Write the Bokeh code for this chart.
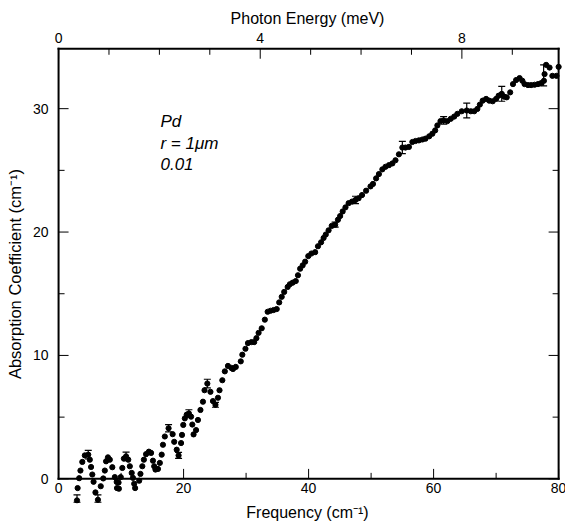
from bokeh.plotting import figure
from bokeh.models import (ColumnDataSource, Range1d, LinearAxis, FixedTicker,
                          Whisker, TeeHead, LabelSet)
from bokeh.core.properties import value
from bokeh.embed import file_html
from bokeh.resources import INLINE

# ---- data ----
freq = [2.95, 3.05, 3.3, 3.5, 3.8, 4.2, 4.75, 5.0, 5.2, 5.4, 5.6, 5.9, 6.3, 6.75,
        7.15, 7.4, 7.6, 7.9, 8.2, 8.6, 9.0, 9.3, 9.6, 9.35, 9.65, 9.95, 10.2, 10.45,
        10.8, 11.15, 11.4, 11.7, 11.9, 12.1, 12.25, 12.9, 13.1, 13.4, 13.65, 14.0,
        14.45, 14.8, 15.1, 15.3, 15.5, 15.9, 16.2, 16.5, 16.7, 17.0, 17.6, 18.25,
        18.5, 18.9, 19.2, 19.6, 19.75, 19.95, 20.2, 20.5, 20.85, 21.2, 21.4, 21.6,
        22.0, 22.3, 22.7, 23.1, 23.35, 23.8, 24.3, 24.7, 25.1, 25.5, 25.75, 26.2,
        26.6, 27.1, 27.65, 27.9, 28.35, 29.15, 29.4, 29.9, 30.3, 30.85, 31.3, 31.65,
        32.0, 32.5, 33.0, 33.45, 33.9, 34.4, 34.9, 35.3, 35.7, 36.1, 36.65, 37.0,
        37.45, 37.95, 38.3, 38.65, 39.05, 39.45, 39.95, 40.45, 41.05, 41.5, 42.0,
        42.4, 42.75, 43.2, 43.7, 44.25, 44.7, 45.05, 45.45, 45.9, 46.4, 46.95, 47.5,
        48.0, 48.55, 49.2, 49.9, 50.3, 50.8, 51.25, 51.8, 52.3, 52.85, 53.4, 53.9,
        54.45, 55.0, 55.5, 56.05, 56.6, 57.1, 57.65, 58.2, 58.7, 59.3, 59.8, 60.25,
        60.6, 61.1, 61.6, 62.2, 62.75, 63.3, 63.8, 64.5, 65.3, 65.95, 66.5, 67.0,
        67.4, 67.85, 68.4, 68.9, 69.45, 70.0, 70.4, 70.9, 71.3, 71.7, 72.25, 72.7,
        73.2, 73.75, 74.2, 74.55, 75.1, 75.6, 76.15, 76.7, 77.2, 77.65, 77.75, 78.0,
        78.55, 79.0, 79.65, 80.0]
absorb = [-1.75, -0.75, 0.05, 0.67, 1.37, 1.9, 1.96, 1.55, 0.96, 0.35, -0.24, -1.1,
          -1.7, -0.6, 0.03, 0.67, 1.42, 1.74, 1.55, 0.94, 0.14, -0.25, -0.3, -0.75,
          -0.8, 0.14, 0.88, 1.64, 1.82, 1.55, 1.02, 0.48, 0.08, -0.4, -0.75, -0.15,
          0.4, 1.02, 1.55, 2.0, 2.2, 2.1, 1.47, 1.02, 0.75, 0.8, 1.29, 1.96, 2.76,
          3.43, 4.1, 3.62, 3.0, 2.36, 1.9, 2.9, 3.56, 4.37, 4.9, 5.2, 5.3, 5.04, 4.4,
          3.6, 3.95, 4.77, 5.58, 6.25, 7.18, 7.72, 7.05, 6.3, 6.0, 6.57, 7.18, 7.99,
          8.71, 9.15, 8.99, 8.9, 9.07, 9.52, 10.06, 10.54, 11.0, 11.08, 11.08, 11.4,
          11.83, 12.2, 12.9, 13.54, 13.62, 13.68, 13.76, 14.3, 14.75, 15.15, 15.55,
          15.77, 15.9, 16.03, 16.5, 17.03, 17.3, 17.6, 18.05, 18.26, 18.37, 18.85,
          19.17, 19.52, 19.8, 20.14, 20.5, 20.6, 21.0, 21.3, 21.67, 22.0, 22.34,
          22.47, 22.6, 22.74, 23.0, 23.35, 23.7, 23.9, 24.35, 24.7, 25.08, 25.29,
          25.42, 25.56, 25.82, 26.3, 26.85, 26.85, 26.9, 27.3, 27.38, 27.43, 27.5,
          27.57, 27.76, 27.97, 28.24, 28.64, 28.99, 29.05, 28.99, 29.18, 29.36,
          29.58, 29.79, 29.85, 29.79, 29.79, 29.98, 30.33, 30.65, 30.79, 30.65, 30.6,
          30.79, 31.05, 31.2, 30.97, 30.92, 31.32, 31.99, 32.32, 32.48, 32.26, 31.99,
          31.91, 31.91, 31.94, 31.99, 32.07, 32.26, 32.8, 33.55, 33.33, 32.66, 32.66,
          33.39]

err_freq = [2.95, 4.75, 6.3, 10.8, 17.6, 19.2, 20.85, 23.8, 25.1, 44.25, 47.5,
            55.0, 61.6, 65.3, 70.9, 77.6]
err_center = [-1.6, 1.96, -1.6, 1.82, 4.1, 1.9, 5.3, 7.72, 6.0, 20.6, 22.6,
              26.85, 29.05, 29.85, 31.2, 32.7]
err_half = [0.3, 0.35, 0.3, 0.35, 0.3, 0.25, 0.3, 0.35, 0.2, 0.2, 0.3,
            0.5, 0.3, 0.6, 0.6, 0.85]

# axis limits and ticks
X_MIN, X_MAX = 0, 80
Y_MIN, Y_MAX = 0, 34.85
x_ticks = [0, 20, 40, 60, 80]
x_minor = [10, 30, 50, 70]
y_ticks = [0, 10, 20, 30]
y_minor = [5, 15, 25]
mev_ticks = [0, 4, 8]
mev_minor = [1, 2, 3, 5, 6, 7, 9]
cm_per_mev = 8.0655

label_lines = ["Pd", "r = 1\u03bcm", "0.01"]
label_y = [28.95, 27.2, 25.55]

# visible canvas slightly larger than the boxed frame (so points below zero
# and the edge tick labels are not cut)
X_LO, X_HI = -1.45, 81.1
Y_LO, Y_HI = -2.0, 35.2
PX_X = 6.25     # pixels per cm^-1
PX_Y = 12.425   # pixels per unit of absorption
MAJ, MIN_ = 10, 6  # tick lengths in px

FONT = "Liberation Sans"

p = figure(width=565, height=523, output_backend="svg", toolbar_location=None,
           x_range=Range1d(X_LO, X_HI), y_range=Range1d(Y_LO, Y_HI),
           min_border_left=49, min_border_right=0, min_border_top=44,
           min_border_bottom=17)
p.extra_x_ranges = {"mev": Range1d(X_LO / cm_per_mev, X_HI / cm_per_mev)}
p.grid.visible = False
p.outline_line_color = None
p.background_fill_color = "white"
p.border_fill_color = "white"


def labels_only(ax, ticks):
    ax.ticker = FixedTicker(ticks=ticks, minor_ticks=[])
    ax.axis_line_color = None
    ax.major_tick_line_color = None
    ax.minor_tick_line_color = None
    ax.major_tick_in = 0
    ax.major_tick_out = 0
    ax.minor_tick_in = 0
    ax.minor_tick_out = 0
    ax.major_label_text_font = FONT
    ax.major_label_text_font_size = "14px"
    ax.major_label_text_color = "black"
    ax.axis_label_text_font = FONT
    ax.axis_label_text_font_size = "16px"
    ax.axis_label_text_font_style = "normal"
    ax.axis_label_text_color = "black"


xb = p.xaxis[0]
labels_only(xb, [])
xb.axis_label = "Frequency (cm\u207b\u00b9)"
xb.major_label_standoff = 0
xb.axis_label_standoff = 0

yl = p.yaxis[0]
labels_only(yl, y_ticks)
yl.axis_label = "Absorption Coefficient (cm\u207b\u00b9)"
yl.axis_label_text_font_size = "16.5px"
yl.major_label_standoff = 1
yl.axis_label_standoff = 6

top = LinearAxis(x_range_name="mev", axis_label="Photon Energy (meV)")
labels_only(top, mev_ticks)
top.major_label_standoff = 2
top.axis_label_standoff = 3
p.add_layout(top, "above")

# the boxed frame: bottom, top, left, right edges
p.segment(x0=[X_MIN, X_MIN, X_MIN, X_MAX], y0=[Y_MIN, Y_MAX, Y_MIN, Y_MIN],
          x1=[X_MAX, X_MAX, X_MIN, X_MAX], y1=[Y_MIN, Y_MAX, Y_MAX, Y_MAX],
          line_color="black", line_width=2, line_cap="square")

# inward ticks on all four sides
def ticks_x(vals, y0, length_px, sign, rng="default"):
    n = len(vals)
    p.segment(x0=vals, y0=[y0] * n, x1=vals, y1=[y0 + sign * length_px / PX_Y] * n,
              line_color="black", line_width=1, x_range_name=rng)

def ticks_y(vals, x0, length_px, sign):
    n = len(vals)
    p.segment(x0=[x0] * n, y0=vals, x1=[x0 + sign * length_px / PX_X] * n, y1=vals,
              line_color="black", line_width=1)

ticks_x(x_ticks, Y_MIN, MAJ, +1)
ticks_x(x_minor, Y_MIN, MIN_, +1)
ticks_x(mev_ticks, Y_MAX, MAJ, -1, "mev")
ticks_x(mev_minor, Y_MAX, MIN_, -1, "mev")
ticks_y(y_ticks, X_MIN, MAJ, +1)
ticks_y(y_minor, X_MIN, MIN_, +1)
ticks_y(y_ticks, X_MAX, MAJ, -1)
ticks_y(y_minor, X_MAX, MIN_, -1)

# frequency tick labels just under the zero line
lsrc = ColumnDataSource(dict(x=x_ticks, y=[Y_MIN] * len(x_ticks),
                             t=[str(t) for t in x_ticks]))
p.add_layout(LabelSet(x="x", y="y", text="t", source=lsrc, y_offset=-4,
                      text_align="center", text_baseline="top",
                      text_font=value(FONT), text_font_size="14px", text_color="black"))

src = ColumnDataSource(dict(f=freq, a=absorb))
p.scatter("f", "a", source=src, size=5.2, color="black", marker="circle")

esrc = ColumnDataSource(dict(f=err_freq,
                             lo=[c - h for c, h in zip(err_center, err_half)],
                             hi=[c + h for c, h in zip(err_center, err_half)]))
w = Whisker(base="f", lower="lo", upper="hi", source=esrc, dimension="height",
            line_color="black", line_width=1.2,
            lower_head=TeeHead(size=7, line_color="black", line_width=1.2),
            upper_head=TeeHead(size=7, line_color="black", line_width=1.2))
p.add_layout(w)

tsrc = ColumnDataSource(dict(x=[16.3] * len(label_lines), y=label_y, t=label_lines))
p.text("x", "y", text="t", source=tsrc, text_font=value(FONT),
       text_font_style="italic", text_font_size="17px", text_color="black",
       text_baseline="middle", text_align="left")

open("out.html", "w").write(file_html(p, INLINE))
